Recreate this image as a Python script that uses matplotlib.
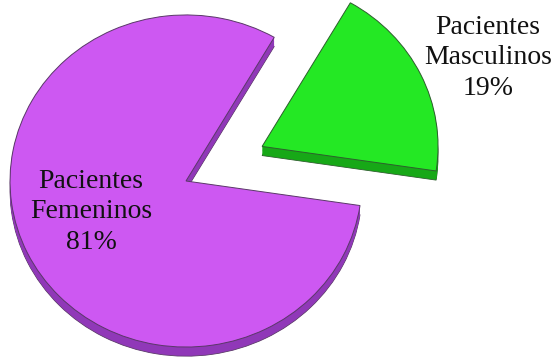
"""
Distribución de pacientes por sexo: pastel "3D" con la porción masculina separada.
"""

import matplotlib.pyplot as plt

# -----------------------------------------------------------------------
# DATOS
# -----------------------------------------------------------------------
categorias = ["Pacientes\nMasculinos", "Pacientes\nFemeninos"]
porcentajes = [19, 81]
separacion = [0.48, 0.0]

# colores: cara superior y canto lateral
TOP = ["#24E824", "#CD58F2"]
SIDE = ["#17A817", "#9038B8"]
EDGE = ["#2E5E2E", "#5A3868"]

GROSOR = 0.055      # altura del canto, en unidades de radio (eje y)
CAPAS = 12
INICIO = -8.5

fig = plt.figure(figsize=(5.52, 3.58), dpi=100)
ax = fig.add_axes([0, 0, 1, 1])

# canto: la misma torta repetida hacia abajo
for k in range(CAPAS, 0, -1):
    dz = GROSOR * k / CAPAS
    wedges, _ = ax.pie(porcentajes, explode=separacion, startangle=INICIO,
                       colors=SIDE, center=(0, -dz),
                       wedgeprops=dict(linewidth=0))
    if k == CAPAS:
        for w, ec in zip(wedges, EDGE):
            w.set_edgecolor(ec)
            w.set_linewidth(0.6)

# cara superior
wedges, _ = ax.pie(porcentajes, explode=separacion, startangle=INICIO,
                   colors=TOP,
                   wedgeprops=dict(linewidth=0.7))
for w, ec in zip(wedges, EDGE):
    w.set_edgecolor(ec)

ax.set_aspect("auto")
ax.set_xlim(-1.057, 2.080)
ax.set_ylim(-1.066, 1.090)
ax.axis("off")

# etiquetas
fuente = dict(family=["Liberation Serif", "DejaVu Serif"], fontsize=20,
              color="#111111", ha="center", va="center",
              multialignment="center", linespacing=1.28)
ax.text(0.884, 0.838, f"{categorias[0]}\n{porcentajes[0]}%",
        transform=fig.transFigure, **fuente)
ax.text(0.165, 0.408, f"{categorias[1]}\n{porcentajes[1]}%",
        transform=fig.transFigure, **fuente)

fig.savefig("out.png", dpi=100, facecolor="white")
